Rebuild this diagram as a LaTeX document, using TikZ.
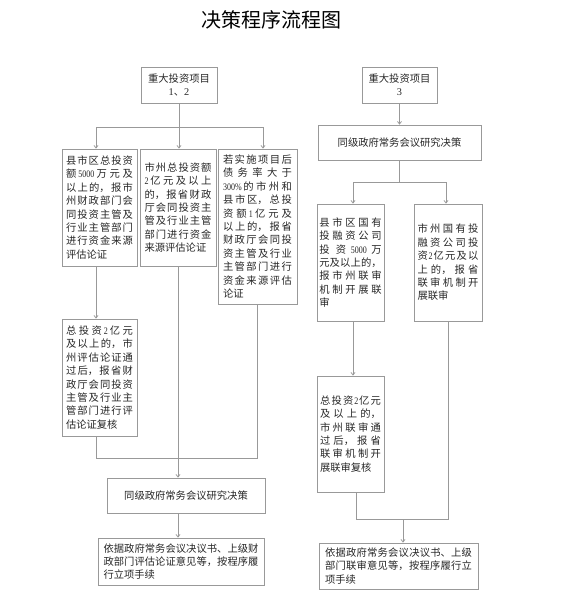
\documentclass[tikz,border=0pt]{standalone}
\usepackage{fontspec}
\usepackage{graphicx}
\setmainfont{Noto Sans CJK SC}
\newfontfamily\numfont{Liberation Serif}
\usetikzlibrary{arrows.meta}
\XeTeXlinebreaklocale "zh"
\XeTeXlinebreakskip=0pt plus 4pt
\setlength\parindent{0pt}
\newcommand\dg[1]{\hskip0pt plus 3pt\scalebox{0.8}[1]{\numfont\fontsize{10}{10}\selectfont #1}\hskip0pt plus 3pt}

\begin{document}
\begin{tikzpicture}[x=1pt, y=-1pt, font=\fontsize{10.3}{13.4}\selectfont,
                    c/.style={line width=0.8pt, gray!80},
                    arr/.style={c, -{Straight Barb[length=2.5pt,width=4pt]}},
                    box/.style={draw=gray!80, line width=0.8pt, text=black!85, inner sep=0pt, align=justify},
                    hd/.style={box, align=center}]
  \useasboundingbox (0,0) rectangle (567,594);
  \node (title) at (271,20) {\fontsize{20}{24}\selectfont 决策程序流程图};
  % left branch
  \node[hd, minimum width=76, minimum height=36] (L0) at (179,85) {重大投资项目\\{\numfont 1}、{\numfont 2}};
  \node[box, minimum width=75, minimum height=117, text width=67pt] (L1) at (99.5,207.5) {县市区总投资\linebreak 额\dg{5000}万元及\linebreak 以上的，报市\linebreak 州财政部门会\linebreak 同投资主管及\linebreak 行业主管部门\linebreak 进行资金来源\linebreak 评估论证};
  \node[box, minimum width=76, minimum height=117, text width=67pt] (L2) at (178,207.5) {市州总投资额\linebreak \dg{2}亿元及以上\linebreak 的，报省财政\linebreak 厅会同投资主\linebreak 管及行业主管\linebreak 部门进行资金\linebreak 来源评估论证};
  \node[box, minimum width=79, minimum height=155, text width=69pt] (L3) at (257.5,226.5) {若实施项目后\linebreak 债务率大于\linebreak \dg{300\%}的市州和\linebreak 县市区，总投\linebreak 资额\dg{1}亿元及\linebreak 以上的，报省\linebreak 财政厅会同投\linebreak 资主管及行业\linebreak 主管部门进行\linebreak 资金来源评估\linebreak 论证};
  \node[box, minimum width=75, minimum height=117, text width=67pt] (L4) at (99.5,377.5) {总投资\dg{2}亿元\linebreak 及以上的，市\linebreak 州评估论证通\linebreak 过后，报省财\linebreak 政厅会同投资\linebreak 主管及行业主\linebreak 管部门进行评\linebreak 估论证复核};
  \node[hd, minimum width=158, minimum height=35] (L5) at (186,495.5) {同级政府常务会议研究决策};
  \node[box, minimum width=166, minimum height=47, text width=155pt] (L6) at (181,561.5) {依据政府常务会议决议书、上级财\linebreak 政部门评估论证意见等，按程序履\linebreak 行立项手续};
  \coordinate (lsplit) at (179,127);
  \coordinate (lb1) at (96,127);
  \coordinate (lb3) at (263,127);
  \coordinate (ljoin) at (178,458);
  \draw[c] (L0) -- (lsplit);
  \draw[c] (lb1) -- (lb3);
  \draw[arr] (lb1) -- (lb1 |- L1.north);
  \draw[arr] (lsplit) -- (lsplit |- L2.north);
  \draw[arr] (lb3) -- (lb3 |- L3.north);
  \draw[arr] (L1.south -| lb1) -- (L4.north -| lb1);
  \draw[c] (L4.south -| lb1) -- (lb1 |- ljoin) -- (L3.south |- ljoin) -- (L3.south);
  \draw[arr] (L2.south) -- (L2.south |- L5.north);
  \draw[arr] (L5.south -| L2.south) -- (L6.north -| L2.south);
  % right branch
  \node[hd, minimum width=75, minimum height=36] (R0) at (399.5,85) {重大投资项目\\{\numfont 3}};
  \node[hd, minimum width=163, minimum height=35] (R1) at (399.5,142.5) {同级政府常务会议研究决策};
  \node[box, minimum width=67, minimum height=117, text width=62.5pt] (R2) at (350.5,262.5) {县市区国有\linebreak 投融资公司\linebreak 投资\dg{5000}万\linebreak 元及以上的，\linebreak 报市州联审\linebreak 机制开展联\linebreak 审};
  \node[box, minimum width=68, minimum height=117, text width=61pt] (R3) at (448,262.5) {市州国有投\linebreak 融资公司投\linebreak 资\dg{2}亿元及以\linebreak 上的，报省\linebreak 联审机制开\linebreak 展联审};
  \node[box, minimum width=67, minimum height=116, text width=61pt] (R4) at (350.5,434) {总投资\dg{2}亿元\linebreak 及以上的，\linebreak 市州联审通\linebreak 过后，报省\linebreak 联审机制开\linebreak 展联审复核};
  \node[box, minimum width=159, minimum height=46, text width=147pt] (R5) at (398.5,566) {依据政府常务会议决议书、上级\linebreak 部门联审意见等，按程序履行立\linebreak 项手续};
  \coordinate (rsplit) at (399.5,182);
  \coordinate (rb2) at (353,182);
  \coordinate (rb3) at (446,182);
  \coordinate (rj1) at (356,519);
  \coordinate (rjoin) at (403,519);
  \draw[arr] (R0) -- (R1);
  \draw[c] (R1) -- (rsplit);
  \draw[c] (rb2) -- (rb3);
  \draw[arr] (rb2) -- (rb2 |- R2.north);
  \draw[arr] (rb3) -- (rb3 |- R3.north);
  \draw[arr] (R2.south -| rb2) -- (R4.north -| rb2);
  \draw[c] (rj1 |- R4.south) -- (rj1) -- (R3.south |- rj1) -- (R3.south);
  \draw[arr] (rjoin) -- (rjoin |- R5.north);
\end{tikzpicture}
\end{document}
